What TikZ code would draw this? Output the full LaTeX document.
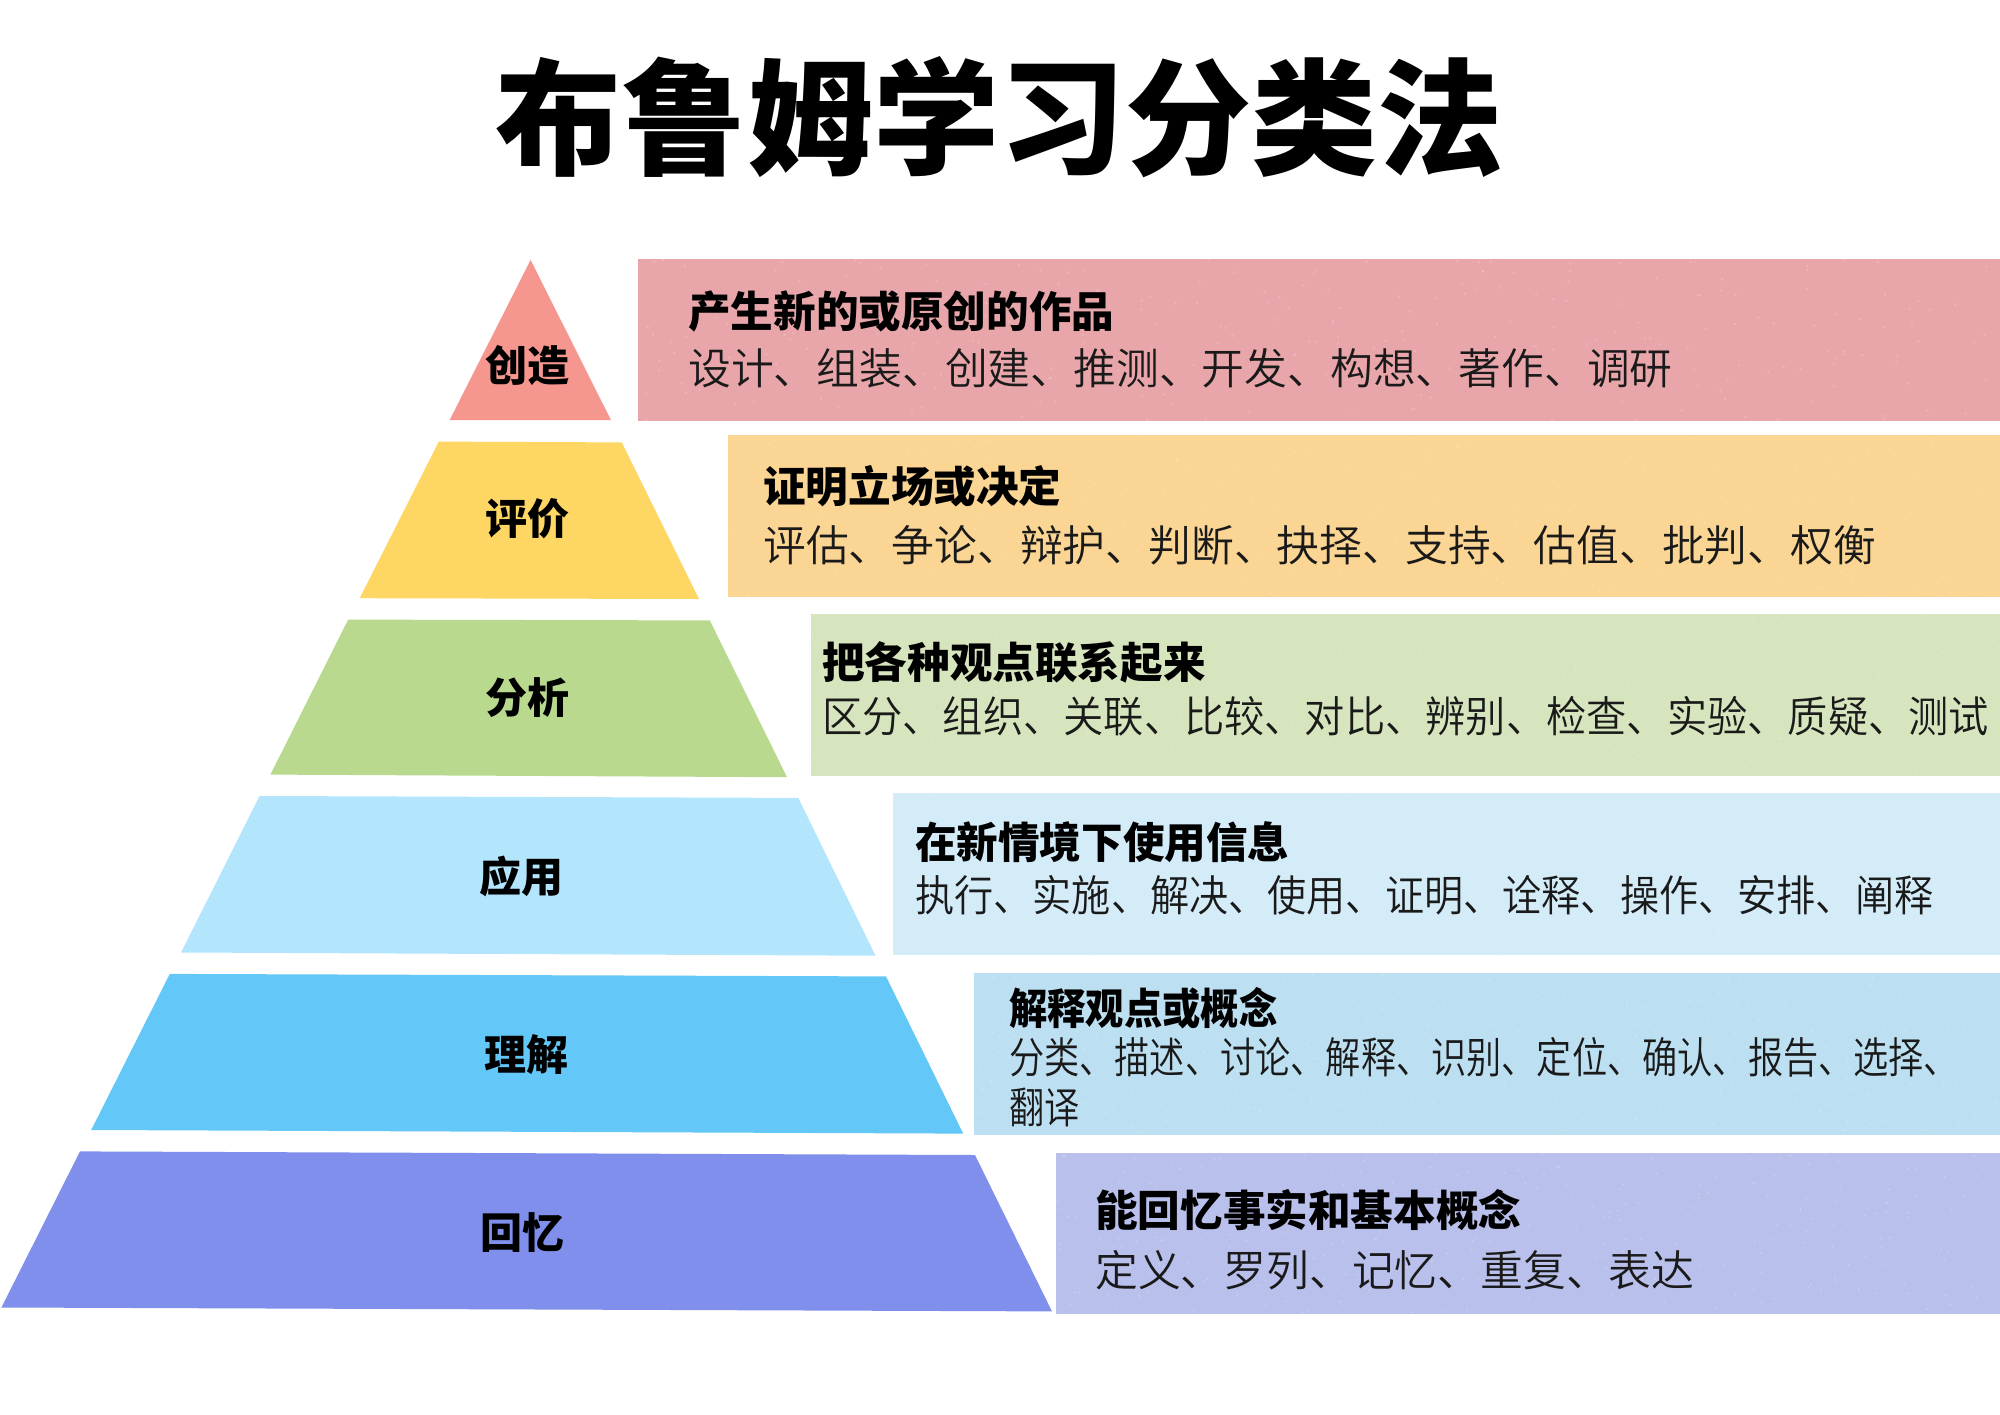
\documentclass[tikz,border=0pt]{standalone}
\usepackage{fontspec}
\usepackage{graphicx}
\newfontfamily\cjkreg{Noto Sans CJK SC DemiLight}
\newfontfamily\cjkblk{Noto Sans CJK SC Black}
\definecolor{l1}{HTML}{F5968F}
\definecolor{l2}{HTML}{FDD663}
\definecolor{l3}{HTML}{B8D98E}
\definecolor{l4}{HTML}{B3E6FC}
\definecolor{l5}{HTML}{63C8F7}
\definecolor{l6}{HTML}{7F8FEB}
\definecolor{b1}{HTML}{E8A6AA}
\definecolor{b2}{HTML}{FAD594}
\definecolor{b3}{HTML}{D6E5BD}
\definecolor{b4}{HTML}{D3ECF8}
\definecolor{b5}{HTML}{BCE0F2}
\definecolor{b6}{HTML}{B9C0EC}
\definecolor{txt}{HTML}{1A1A1A}
\tikzset{
  lvl/.style={inner sep=0pt, font=\cjkblk\fontsize{42}{46}\selectfont, text=black},
  ttl/.style={inner sep=0pt, anchor=west, font=\cjkblk\fontsize{42.6}{47}\selectfont, text=black},
  row/.style={inner sep=0pt, anchor=west, font=\cjkreg\fontsize{42.8}{47}\selectfont, text=txt},
  speck/.style={fill=white, opacity=0.22},
}
\newcommand{\specklebox}[5]{% color, x1, y1, x2, y2
  \fill[#1] (#2,#3) rectangle (#4,#5);
  \begin{scope}
    \clip (#2,#3) rectangle (#4,#5);
    \foreach \k in {1,...,260}{
      \fill[speck] ({#2+rnd*(#4-#2)},{#3+rnd*(#5-#3)}) circle (1.1);
    }
  \end{scope}
}
\begin{document}
\begin{tikzpicture}[x=1pt,y=-1pt]
\pgfmathsetseed{11}
\useasboundingbox (0,0) rectangle (2000,1414);
\fill[white] (0,0) rectangle (2000,1414);
% title
\node[inner sep=0pt, font=\cjkblk\fontsize{126}{130}\selectfont] (title) at (999,117) {布鲁姆学习分类法};
% pyramid layers
\fill[l1] (530.6,259.9) -- (611,420.2) -- (449.6,420.2) -- cycle;
\fill[l2] (438.8,441.6) -- (621.8,442.4) -- (699,599) -- (359.7,598.2) -- cycle;
\fill[l3] (348.2,619.6) -- (709.8,620.4) -- (787,777.2) -- (270.4,774.6) -- cycle;
\fill[l4] (259.6,796) -- (798.3,797.9) -- (875.5,955.7) -- (181,952.5) -- cycle;
\fill[l5] (169.8,973.9) -- (886,976.4) -- (963.2,1133.6) -- (91.2,1130) -- cycle;
\fill[l6] (80,1151.4) -- (975,1155) -- (1052,1311.4) -- (1.4,1307.5) -- cycle;
\node[lvl] (n1) at (527,366) {创造};
\node[lvl] (n2) at (527,519) {评价};
\node[lvl] (n3) at (527,698) {分析};
\node[lvl] (n4) at (521,876) {应用};
\node[lvl] (n5) at (526,1055) {理解};
\node[lvl] (n6) at (522,1233) {回忆};
% boxes
\specklebox{b1}{638}{259}{2000}{421}
\specklebox{b2}{728}{435}{2000}{597}
\specklebox{b3}{811}{614}{2000}{776}
\specklebox{b4}{893}{793}{2000}{955}
\specklebox{b5}{974}{973}{2000}{1135}
\specklebox{b6}{1056}{1153}{2000}{1314}
% box texts
\node[ttl] (t1) at (688,311) {产生新的或原创的作品};
\node[row] (r1) at (688,368) {设计、组装、创建、推测、开发、构想、著作、调研};
\node[ttl] (t2) at (763,486) {证明立场或决定};
\node[row] (r2) at (763,545) {评估、争论、辩护、判断、抉择、支持、估值、批判、权衡};
\node[ttl] (t3) at (822,662) {把各种观点联系起来};
\node[row] (r3) at (822,716) {\scalebox{0.94}[1]{区分、组织、关联、比较、对比、辨别、检查、实验、质疑、测试}};
\node[ttl] (t4) at (915,842) {\scalebox{0.976}[1]{在新情境下使用信息}};
\node[row] (r4) at (915,895) {\scalebox{0.915}[1]{执行、实施、解决、使用、证明、诠释、操作、安排、阐释}};
\node[ttl] (t5) at (1009,1008) {\scalebox{0.9}[1]{解释观点或概念}};
\node[row] (r5) at (1009,1057) {\scalebox{0.822}[1]{分类、描述、讨论、解释、识别、定位、确认、报告、选择、}};
\node[row] (r5b) at (1009,1107) {\scalebox{0.822}[1]{翻译}};
\node[ttl] (t6) at (1095,1210) {能回忆事实和基本概念};
\node[row] (r6) at (1095,1270) {定义、罗列、记忆、重复、表达};
\end{tikzpicture}
\end{document}
